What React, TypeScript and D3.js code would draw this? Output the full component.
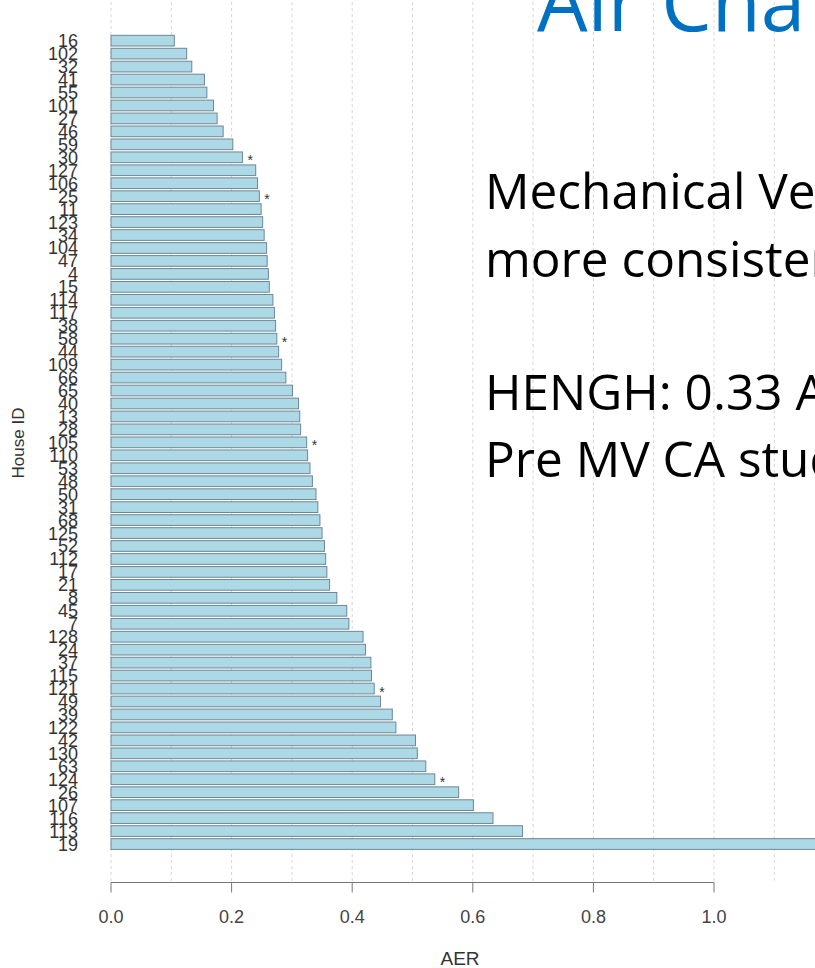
import React from "react";
import * as d3 from "d3";

const houseIds = [
  "16","102","32","41","55","101","27","46","59","30","127","106","25","11","123","34",
  "104","47","4","15","114","117","38","58","44","109","66","65","40","13","28","105",
  "110","53","48","50","31","68","125","52","112","17","21","8","45","7","128","24",
  "37","115","121","49","39","122","42","130","63","124","26","107","116","113","19",
];

const aerValues = [
  0.105,0.1255,0.134,0.155,0.159,0.170,0.176,0.186,0.202,0.218,0.240,0.243,0.246,0.249,0.2515,0.254,
  0.258,0.259,0.261,0.2625,0.2685,0.271,0.273,0.275,0.278,0.283,0.290,0.301,0.311,0.313,0.3145,0.3245,
  0.326,0.330,0.334,0.340,0.343,0.3465,0.350,0.354,0.356,0.358,0.3625,0.3745,0.391,0.3945,0.418,0.422,
  0.431,0.432,0.4365,0.447,0.4665,0.4725,0.505,0.508,0.522,0.537,0.5765,0.601,0.6335,0.6825,1.25,
];

const flaggedIds = ["30","25","58","105","121","124"];

const xTickValues = [0, 0.2, 0.4, 0.6, 0.8, 1.0];
const gridValues = [0, 0.1, 0.2, 0.3, 0.4, 0.5, 0.6, 0.7, 0.8, 0.9, 1.0, 1.1, 1.2];

const titleText = "Air Cha";
const bodyLines = ["Mechanical Ve", "more consisten", "HENGH: 0.33 A", "Pre MV CA stud"];
const bodyBaselines = [209, 277, 410, 477];

const W = 815;
const H = 968;

export default function App() {
  const x = d3.scaleLinear().domain([0, 1]).range([111, 714]);
  const y = d3
    .scaleBand<string>()
    .domain(houseIds)
    .range([34.2, 850.5])
    .paddingInner(0.174)
    .paddingOuter(0.087);
  const bw = y.bandwidth();
  const axisY = 882.5;
  const fmt = d3.format(".1f");

  return (
    <svg
      width={W}
      height={H}
      viewBox={`0 0 ${W} ${H}`}
      style={{ position: "absolute", left: 0, top: 0, background: "#fff" }}
    >
      <rect x={0} y={0} width={W} height={H} fill="#fff" />
      {/* grid */}
      {gridValues.map((g) => (
        <line
          key={"g" + g}
          x1={x(g)}
          x2={x(g)}
          y1={2}
          y2={axisY}
          stroke="#d6d6d6"
          strokeWidth={1}
          strokeDasharray="3,3"
        />
      ))}
      {/* bars */}
      {houseIds.map((id, i) => (
        <rect
          key={"b" + id}
          x={x(0)}
          y={y(id)}
          width={x(aerValues[i]) - x(0)}
          height={bw}
          fill="#ADD8E6"
          stroke="#6e8794"
          strokeWidth={1}
        />
      ))}
      {/* asterisks */}
      {houseIds.map((id, i) =>
        flaggedIds.includes(id) ? (
          <text
            key={"s" + id}
            x={x(aerValues[i]) + 5}
            y={(y(id) as number) + bw / 2 + 8}
            fontFamily="Liberation Sans, Arial, sans-serif"
            fontSize={14}
            fill="#333"
          >
            *
          </text>
        ) : null
      )}
      {/* y labels */}
      {houseIds.map((id) => (
        <text
          key={"l" + id}
          x={78}
          y={(y(id) as number) + bw / 2}
          textAnchor="end"
          dy="0.36em"
          fontFamily="Liberation Sans, Arial, sans-serif"
          fontSize={18}
          fill="#333"
        >
          {id}
        </text>
      ))}
      {/* x axis */}
      <line x1={x(0)} x2={x(1)} y1={axisY} y2={axisY} stroke="#777" strokeWidth={1} />
      {xTickValues.map((t) => (
        <g key={"t" + t}>
          <line x1={x(t)} x2={x(t)} y1={axisY} y2={axisY + 10} stroke="#777" strokeWidth={1} />
          <text
            x={x(t)}
            y={923}
            textAnchor="middle"
            fontFamily="Liberation Sans, Arial, sans-serif"
            fontSize={18}
            fill="#444"
          >
            {fmt(t)}
          </text>
        </g>
      ))}
      <text
        x={460}
        y={965}
        textAnchor="middle"
        fontFamily="Liberation Sans, Arial, sans-serif"
        fontSize={19}
        fill="#333"
      >
        AER
      </text>
      <text
        transform="translate(24, 443) rotate(-90)"
        textAnchor="middle"
        fontFamily="Liberation Sans, Arial, sans-serif"
        fontSize={17}
        fill="#333"
      >
        House ID
      </text>
      {/* slide text */}
      <text
        x={537}
        y={31}
        fontFamily="Open Sans, sans-serif"
        fontSize={80}
        fill="#0070C0"
      >
        {titleText}
      </text>
      {bodyLines.map((line, i) => (
        <text
          key={"t" + i}
          x={485}
          y={bodyBaselines[i]}
          fontFamily="Open Sans, sans-serif"
          fontSize={49.5}
          fill="#000"
        >
          {line}
        </text>
      ))}
    </svg>
  );
}
